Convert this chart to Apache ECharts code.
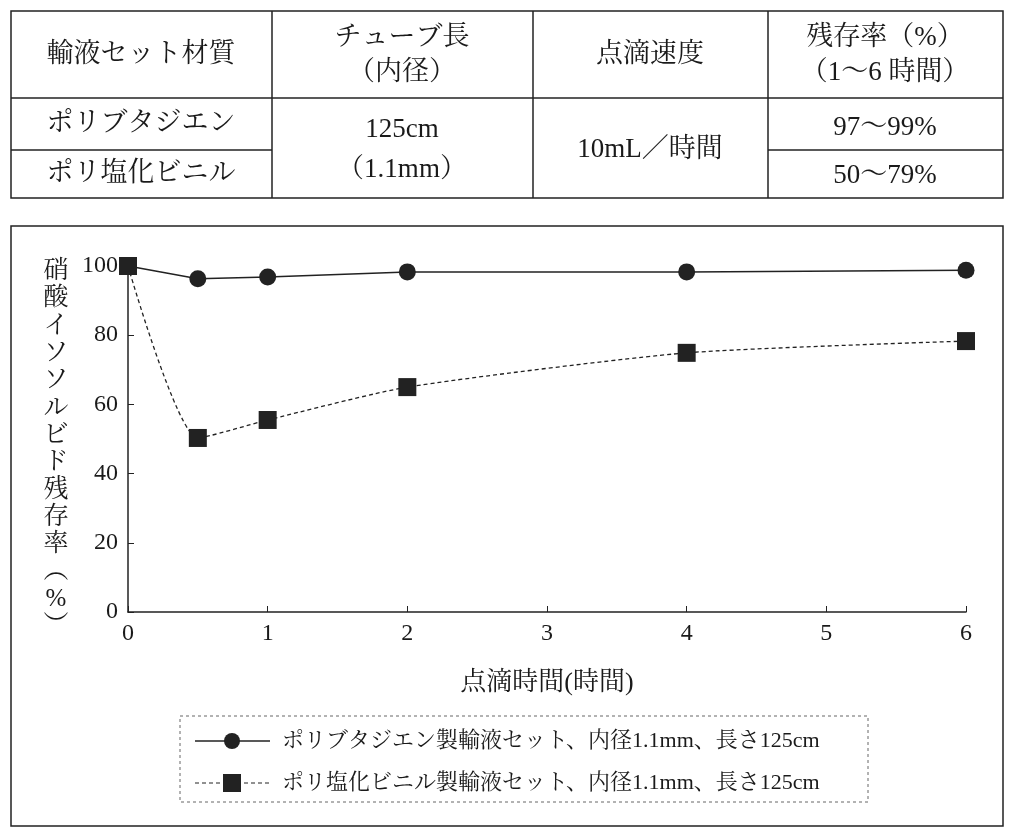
<!DOCTYPE html>
<html><head><meta charset="utf-8">
<script src="https://cdn.jsdelivr.net/npm/echarts@6/dist/echarts.min.js"></script>
<style>html,body{margin:0;background:#fff}#c{width:1014px;height:834px}</style>
</head><body><div id="c"></div>
<script>
const hours = [0, 0.5, 1, 2, 4, 6];
const butadiene = [100, 96.3, 96.8, 98.3, 98.3, 98.8];
const pvc = [100, 50.3, 55.5, 65, 74.9, 78.3];
const xTicks = [0, 1, 2, 3, 4, 5, 6];
const yTicks = [0, 20, 40, 60, 80, 100];
const seriesNames = ['ポリブタジエン製輸液セット、内径1.1mm、長さ125cm', 'ポリ塩化ビニル製輸液セット、内径1.1mm、長さ125cm'];

const F = '"Liberation Serif","Noto Serif CJK JP","Noto Sans CJK JP",serif';
const chart = echarts.init(document.getElementById('c'));
const T = (x, y, s, size, align) => ({type:'text', x, y, style:{text:s, font:`${size||27}px ${F}`, fill:'#1a1a1a', textAlign:align||'center', textVerticalAlign:'middle'}});
const L = (x1,y1,x2,y2,dash) => ({type:'line', shape:{x1,y1,x2,y2}, style:{stroke:'#222', lineWidth:dash?1:1.5, lineDash:dash||null}});
const g = [
  {type:'rect', shape:{x:11,y:11,width:992,height:187}, style:{fill:'none',stroke:'#222',lineWidth:1.5}},
  L(11,98,1003,98), L(11,150,272,150), L(768,150,1003,150),
  L(272,11,272,198), L(533,11,533,198), L(768,11,768,198),
  T(141,55,'輸液セット材質'), T(402,38,'チューブ長'), T(402,73,'（内径）'), T(650,55,'点滴速度'),
  T(885,38,'残存率（%）'), T(885,73,'（1～6 時間）'),
  T(141,124,'ポリブタジエン'), T(141,174,'ポリ塩化ビニル'),
  T(402,130,'125cm'), T(402,170,'（1.1mm）'), T(650,150,'10mL／時間'),
  T(885,128,'97～99%'), T(885,176,'50～79%'),
  {type:'rect', shape:{x:11,y:226,width:992,height:600}, style:{fill:'none',stroke:'#222',lineWidth:1.5}},
  {type:'rect', shape:{x:180,y:716,width:688,height:86}, style:{fill:'none',stroke:'#666',lineWidth:1,lineDash:[3,3]}},
  L(195,741,270,741), {type:'circle', shape:{cx:232,cy:741,r:8}, style:{fill:'#222'}},
  T(282,741,seriesNames[0],22,'left'),
  L(195,783,270,783,[4,3]), {type:'rect', shape:{x:223,y:774,width:18,height:18}, style:{fill:'#222'}},
  T(282,783,seriesNames[1],22,'left'),
  T(547,683,'点滴時間(時間)',26),
  T(56,449,'硝\n酸\nイ\nソ\nソ\nル\nビ\nド\n残\n存\n率\n︵\n%\n︶',25)
];
g[g.length-1].style.lineHeight = 27.3;
chart.setOption({
  animation:false,
  grid:{left:128,right:48,top:266,bottom:222},
  xAxis:{type:'value',min:0,max:6,interval:1,
    axisLine:{lineStyle:{color:'#222',width:1.5}},axisTick:{inside:true,length:6,lineStyle:{color:'#222'}},
    axisLabel:{color:'#1a1a1a',fontSize:24,fontFamily:F,margin:10},splitLine:{show:false}},
  yAxis:{type:'value',min:0,max:100,interval:20,
    axisLine:{show:true,lineStyle:{color:'#222',width:1.5}},axisTick:{show:true,inside:true,length:6,lineStyle:{color:'#222'}},
    axisLabel:{color:'#1a1a1a',fontSize:24,fontFamily:F,margin:10},splitLine:{show:false}},
  series:[
    {name:seriesNames[0],type:'line',data:hours.map((h,i)=>[h,butadiene[i]]),symbol:'circle',symbolSize:17,
     lineStyle:{color:'#222',width:1.5},itemStyle:{color:'#222'}},
    {name:seriesNames[1],type:'line',data:hours.map((h,i)=>[h,pvc[i]]),symbol:'rect',symbolSize:18,smooth:0.2,
     lineStyle:{color:'#222',width:1.3,type:[4,3]},itemStyle:{color:'#222'}}
  ],
  graphic:g
});
</script></body></html>
